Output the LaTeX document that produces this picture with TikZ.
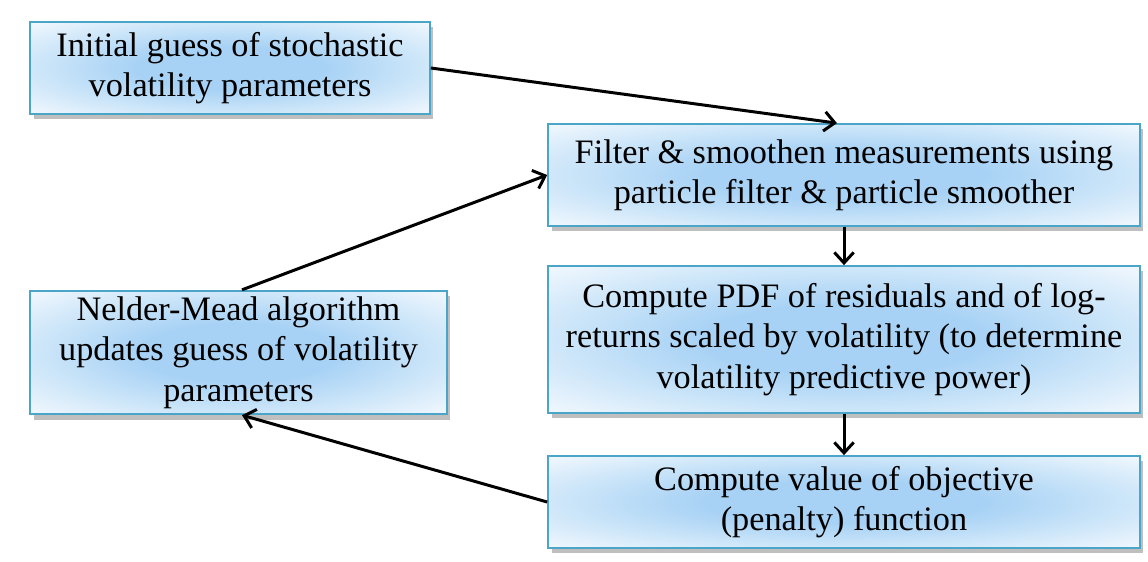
\documentclass[tikz,border=0pt]{standalone}
\usepackage{fontspec}
\setmainfont{Liberation Serif}
\usepackage{xcolor}
\usepackage{tikz}
\usetikzlibrary{arrows.meta}
\usetikzlibrary{shadows}
\definecolor{boxline}{RGB}{75,165,200}
\definecolor{boxin}{RGB}{168,210,245}
\definecolor{boxmid}{RGB}{205,230,249}
\definecolor{boxout}{RGB}{244,249,254}
\pgfdeclareradialshading{Kastenfarbe}{\pgfpoint{0bp}{0bp}}{%
  color(0bp)=(boxin); color(12bp)=(boxin); color(24bp)=(boxmid);
  color(36bp)=(boxout); color(70bp)=(boxout)}
\tikzset{
  Kasten/.style={draw=boxline, line width=1pt, shading=Kastenfarbe,
    align=center, font=\fontsize{19.5}{23}\selectfont,
    drop shadow={shadow xshift=2pt, shadow yshift=-3pt, fill=black, opacity=.25}}, % für Kästen
  Pfeil/.style={line width=1.7pt,-{Straight Barb[length=6pt,width=11pt]}} % für Pfeile
}
\begin{document}
\begin{tikzpicture}[x=0.02cm, y=-0.02cm]
\useasboundingbox (0,0) rectangle (1148,561);

%Kästen
\node[Kasten, minimum width=8cm, minimum height=1.84cm] (init) at (230,68)
  {Initial guess of stochastic\\volatility parameters};
\node[Kasten, minimum width=11.84cm, minimum height=2.04cm] (filter) at (844,175)
  {Filter \& smoothen measurements using\\particle filter \& particle smoother};
\node[Kasten, minimum width=11.84cm, minimum height=2.94cm] (pdf) at (844,339.5)
  {Compute PDF of residuals and of log-\\returns scaled by volatility (to determine\\volatility predictive power)};
\node[Kasten, minimum width=11.84cm, minimum height=1.84cm] (objective) at (844,502)
  {Compute value of objective\\(penalty) function};
\node[Kasten, minimum width=8.34cm, minimum height=2.42cm] (nelder) at (238.5,352.5)
  {Nelder-Mead algorithm\\updates guess of volatility\\parameters};

%Pfeile
\draw[Pfeil] (init.east) -- ([xshift=-4pt]filter.north);
\draw[Pfeil] (filter) -- (pdf);
\draw[Pfeil] (pdf) -- (objective);
\draw[Pfeil] (objective.west) -- ([xshift=2pt]nelder.south);
\draw[Pfeil] ([xshift=2pt]nelder.north) -- (filter.west);

\end{tikzpicture}
\end{document}
